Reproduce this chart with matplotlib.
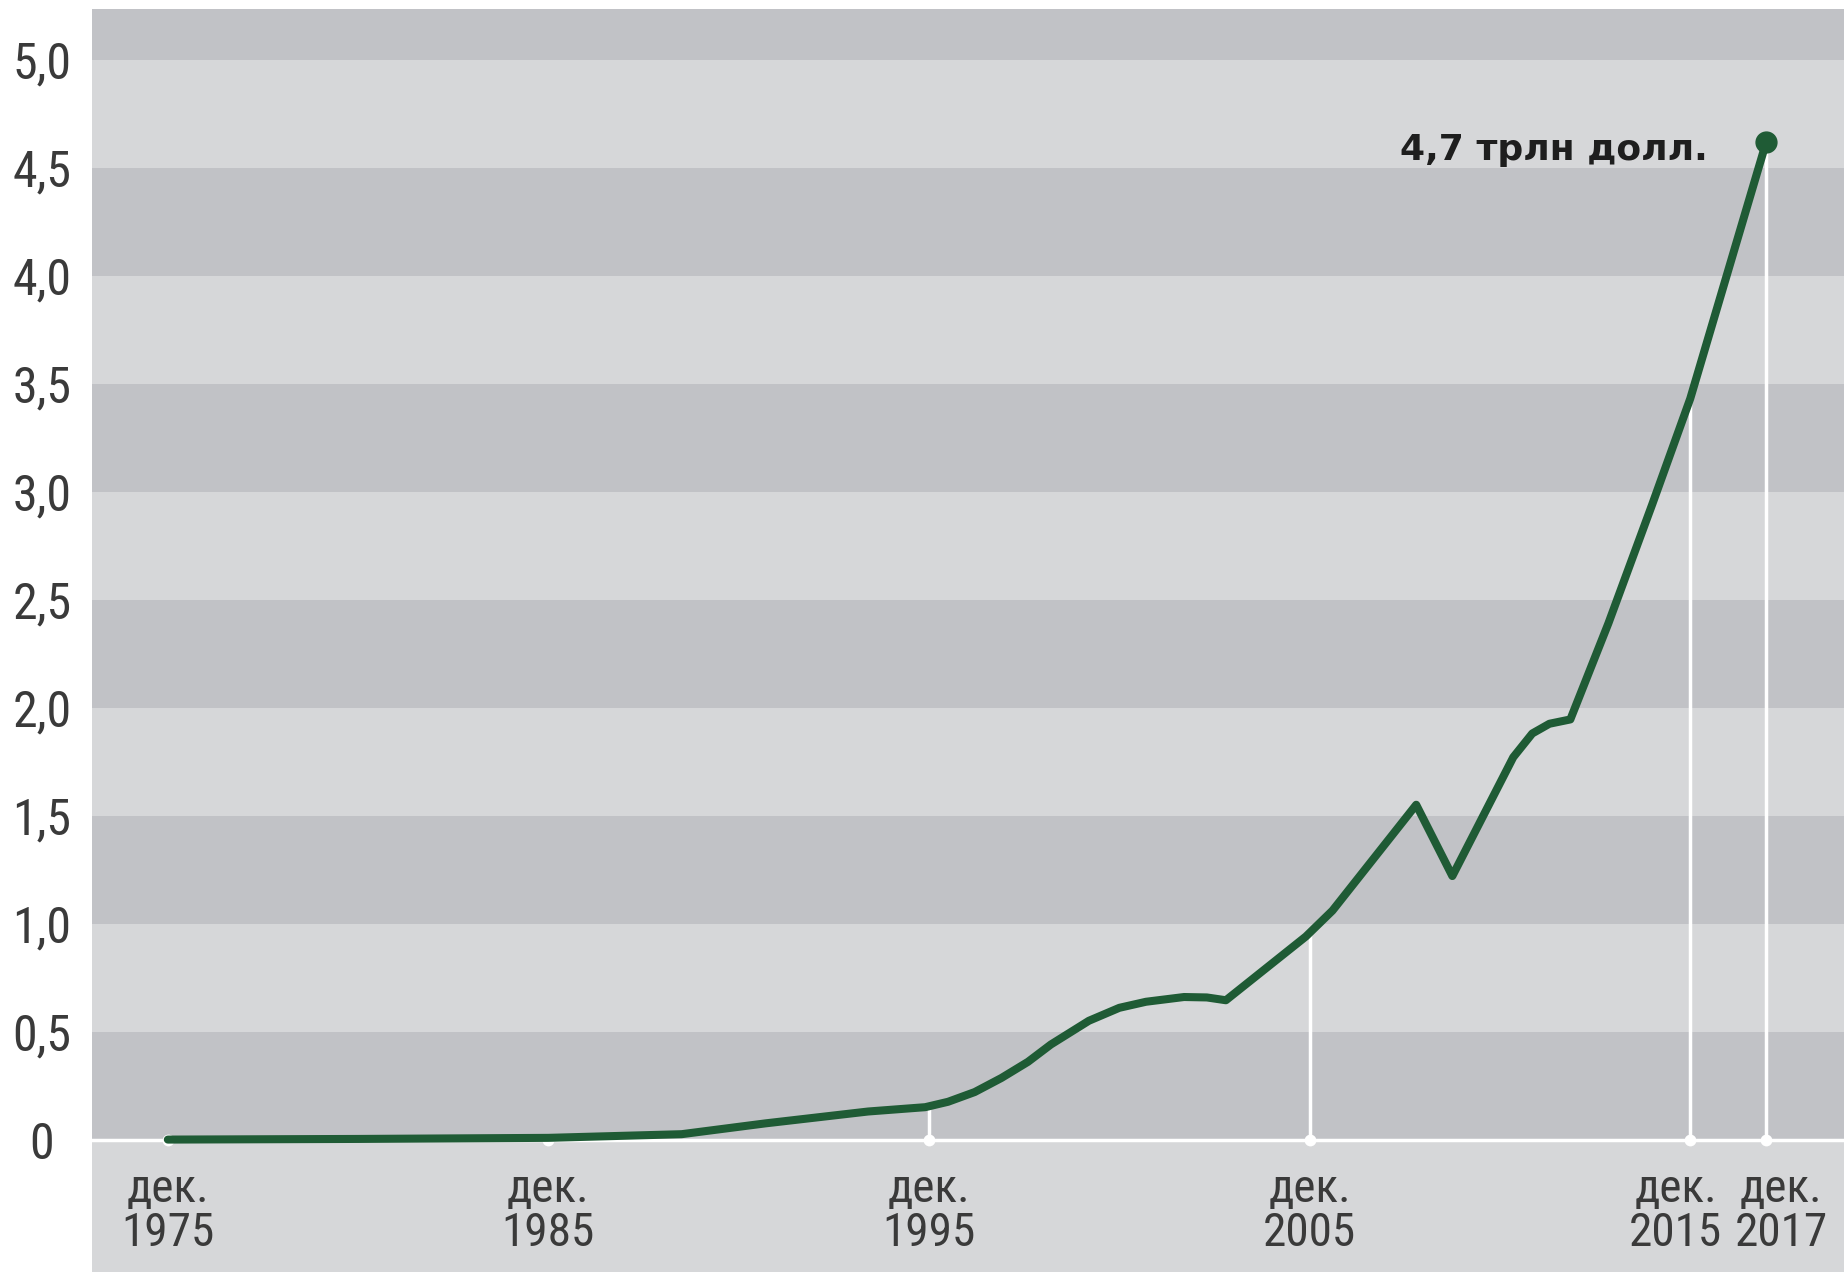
import numpy as np
import matplotlib
matplotlib.use("Agg")
import matplotlib.pyplot as plt
from matplotlib import transforms

# data (years as decimals, values in trillions USD)
years = [1975.0, 1980.0, 1985.0, 1988.5, 1990.7, 1993.4, 1994.9, 1995.5,
         1996.2, 1996.9, 1997.6, 1998.2, 1999.2, 2000.0, 2000.7, 2001.7,
         2002.3, 2002.8, 2004.9, 2005.6, 2007.8, 2008.75, 2010.35, 2010.85,
         2011.3, 2011.85, 2012.85, 2014.0, 2015.0, 2017.0]
values = [0.0, 0.003, 0.008, 0.025, 0.075, 0.13, 0.15, 0.175,
          0.22, 0.285, 0.36, 0.44, 0.55, 0.61, 0.638, 0.66,
          0.658, 0.645, 0.94, 1.06, 1.55, 1.22, 1.77, 1.88,
          1.925, 1.945, 2.39, 2.94, 3.43, 4.62]

tick_years = [1975, 1985, 1995, 2005, 2015, 2017]
tick_labels = ["дек.\n1975", "дек.\n1985", "дек.\n1995", "дек.\n2005",
               "дек.\n2015", "дек.\n2017"]
label_shift = [0, 0, 0, 0, -10.5, 10.5]   # points, to keep last two apart

y_ticks = [0, 0.5, 1.0, 1.5, 2.0, 2.5, 3.0, 3.5, 4.0, 4.5, 5.0]
y_labels = ["0", "0,5", "1,0", "1,5", "2,0", "2,5", "3,0", "3,5", "4,0", "4,5", "5,0"]

end_label = "4,7 трлн долл."

green = "#1f5b35"
dark = "#c1c2c6"
light = "#d6d7d9"
txt = "#3a3a3a"
narrow = ["Roboto Condensed", "Roboto", "DejaVu Sans"]

fig = plt.figure(figsize=(18.44, 12.75), dpi=100)
ax = fig.add_axes([91.7 / 1844, 3 / 1275, 1 - 91.7 / 1844, (1272 - 9.4) / 1275])
ax.set_facecolor(light)
ax.set_xlim(1973.0, 2019.04)
ax.set_ylim(-0.613, 5.232)
for s in ax.spines.values():
    s.set_visible(False)

# alternating bands
for lo in [0, 1.0, 2.0, 3.0, 4.0]:
    ax.axhspan(lo, lo + 0.5, color=dark, lw=0, zorder=0)
ax.axhspan(5.0, 6.0, color=dark, lw=0, zorder=0)

# zero line and white drop lines
ax.axhline(0, color="white", lw=2.5, zorder=1)
tops = np.interp(tick_years, years, values)
ax.vlines(tick_years, 0, tops, color="white", lw=2.5, zorder=1)
ax.plot(tick_years, [0] * len(tick_years), "o", color="white", ms=8.5,
        mec="none", zorder=2)

# curve
ax.plot(years, values, color=green, lw=5.8, solid_capstyle="round",
        solid_joinstyle="round", zorder=3)
ax.plot(years[-1], values[-1], "o", color=green, ms=15, zorder=4)
ax.annotate(end_label, (years[-1], values[-1]), xytext=(-42, -13),
            textcoords="offset points", ha="right", va="baseline",
            fontsize=26, fontweight="bold", color="#1e1e1e",
            family="DejaVu Sans", zorder=5)

# y tick labels
ax.set_yticks(y_ticks)
ax.set_yticklabels(y_labels, fontsize=36, color=txt, family=narrow)
ax.tick_params(axis="y", length=0, pad=35.8)
for lab in ax.get_yticklabels():
    lab.set_horizontalalignment("center")
ax.set_xticks([])

# x labels inside the panel
for yr, lab, dx in zip(tick_years, tick_labels, label_shift):
    tr = ax.transData + transforms.ScaledTranslation(dx / 72, 0, fig.dpi_scale_trans)
    ax.text(yr, -0.33, lab, transform=tr, ha="center", va="center",
            fontsize=34, color=txt, family=narrow, linespacing=0.98)

fig.savefig("out.png", dpi=100)
